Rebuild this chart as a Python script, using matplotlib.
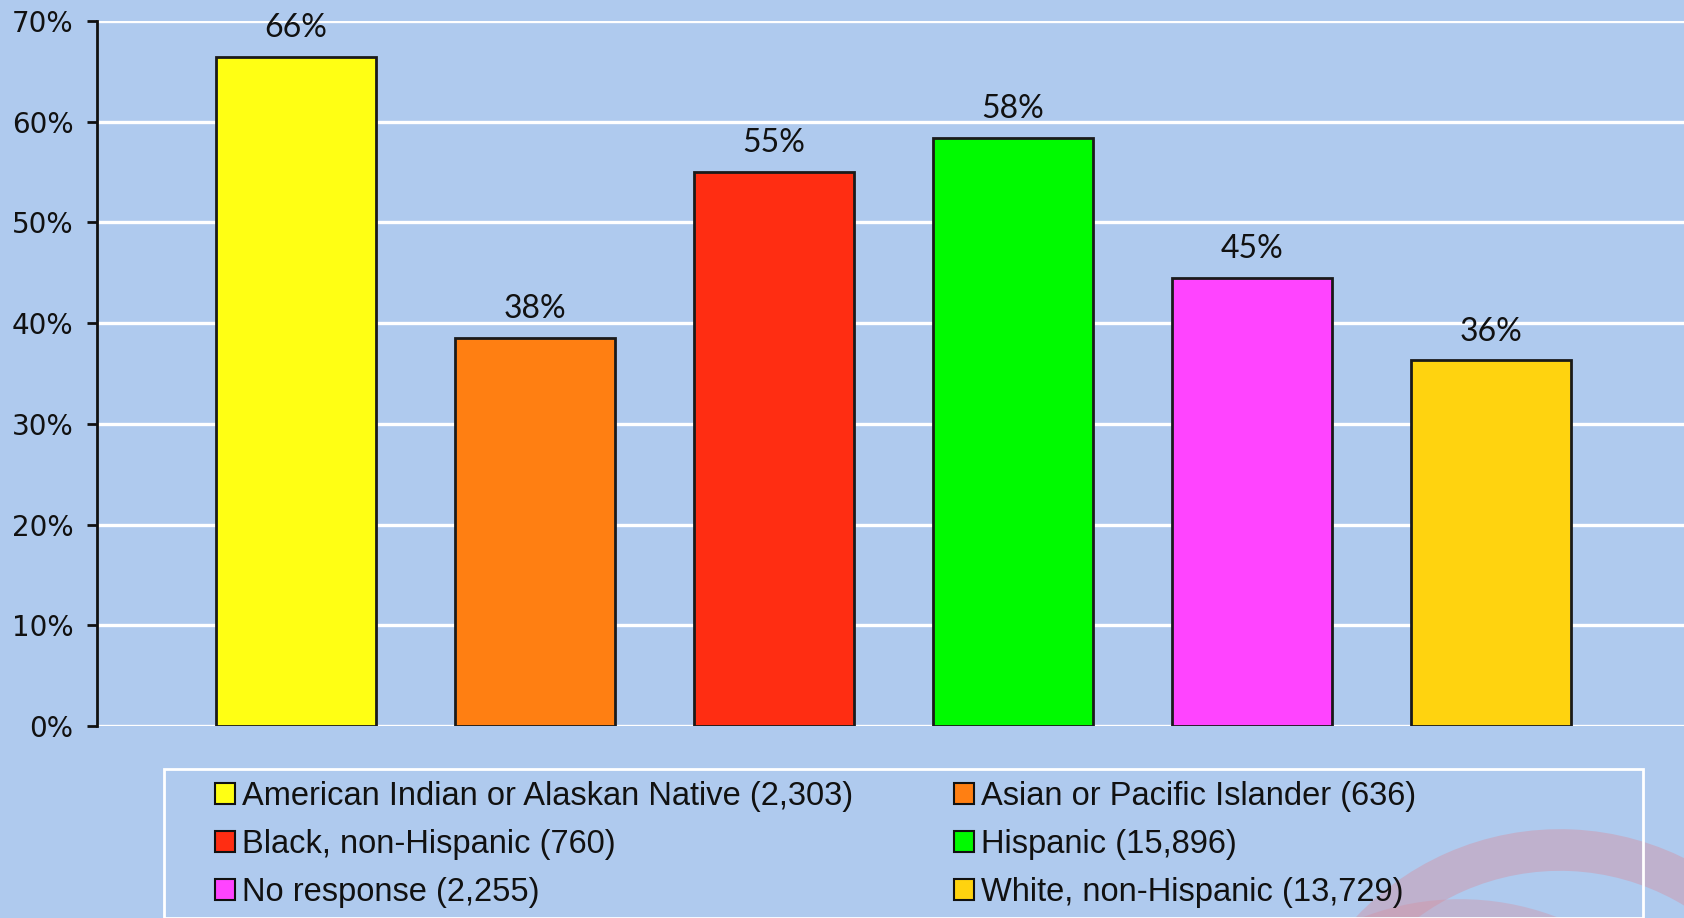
import matplotlib
matplotlib.use("Agg")
import matplotlib.pyplot as plt
from matplotlib.patches import Rectangle, Arc
from matplotlib.font_manager import fontManager

# ---- data ----
categories = ["American Indian or Alaskan Native", "Asian or Pacific Islander",
              "Black, non-Hispanic", "Hispanic", "No response", "White, non-Hispanic"]
counts = ["2,303", "636", "760", "15,896", "2,255", "13,729"]
values = [66.4, 38.5, 55.0, 58.4, 44.5, 36.3]
value_labels = ["66%", "38%", "55%", "58%", "45%", "36%"]
colors = ["#FFFF14", "#FF7F12", "#FF2D12", "#00FA00", "#FF44FF", "#FFD30F"]
yticks = [0, 10, 20, 30, 40, 50, 60, 70]
ytick_labels = ["0%", "10%", "20%", "30%", "40%", "50%", "60%", "70%"]

BG = "#AFCAEE"
W, H = 1684, 918

available = {f.name for f in fontManager.ttflist}
legend_font = "Liberation Sans Narrow" if "Liberation Sans Narrow" in available else "Liberation Sans"
legend_size = 22 if legend_font == "Liberation Sans Narrow" else 23.5
value_font = "Lato" if "Lato" in available else "DejaVu Sans"

fig = plt.figure(figsize=(W / 100, H / 100), dpi=100, facecolor=BG)

# decorative swooshes (bottom right)
swoosh = "#D88C9C"
fig.add_artist(Arc((1560 / 100, (H - 1110) / 100), 5.2, 5.2, theta1=35, theta2=140,
                   transform=fig.dpi_scale_trans, color=swoosh, lw=30, alpha=0.4, zorder=0))
fig.add_artist(Arc((1460 / 100, (H - 1170) / 100), 5.0, 5.0, theta1=50, theta2=130,
                   transform=fig.dpi_scale_trans, color=swoosh, lw=30, alpha=0.35, zorder=0))

ax = fig.add_axes([97 / W, 1 - 726 / H, 1 - 97 / W, (726 - 21) / H])
ax.set_facecolor("none")

x = list(range(len(categories)))
ax.bar(x, values, width=0.67, color=colors, edgecolor="#1a1a1a", linewidth=2, zorder=3)

for xi, v, lab in zip(x, values, value_labels):
    ax.annotate(lab, (xi, v), xytext=(0, 10), textcoords="offset points",
                ha="center", va="bottom", fontsize=23, family=value_font, color="#111111")

ax.set_xlim(-0.833, 5.808)
ax.set_ylim(0, 70)
ax.set_yticks(yticks)
ax.set_yticklabels(ytick_labels, fontsize=20, color="#111111")
ax.set_xticks([])
ax.yaxis.grid(True, color="white", linewidth=2.4, zorder=1)
ax.set_axisbelow(True)
for s in ["top", "right", "bottom"]:
    ax.spines[s].set_visible(False)
ax.spines["left"].set_linewidth(2)
ax.spines["left"].set_color("#111111")
ax.tick_params(axis="y", length=7, width=2, color="#111111", pad=10)

# legend frame
fig.add_artist(Rectangle((164 / W, 0), (1643 - 164) / W, 1 - 769 / H,
                         transform=fig.transFigure, facecolor="none",
                         edgecolor="white", linewidth=2, zorder=1))

handles = [Rectangle((0, 0), 1, 1, facecolor=c, edgecolor="#111111", linewidth=1.5) for c in colors]
labels = [f"{c} ({n})" for c, n in zip(categories, counts)]

col_x = [215 / W, 954 / W]
for ci in range(2):
    idx = [ci, ci + 2, ci + 4]
    leg = fig.legend([handles[i] for i in idx], [labels[i] for i in idx],
                     loc="upper left", bbox_to_anchor=(col_x[ci], 1 - 781 / H),
                     frameon=False, borderpad=0, borderaxespad=0,
                     handlelength=0.6, handleheight=0.62, handletextpad=0.22,
                     labelspacing=0.52,
                     prop={"family": legend_font, "size": legend_size})
    for t in leg.get_texts():
        t.set_color("#111111")

fig.savefig("out.png", dpi=100, facecolor=BG)
